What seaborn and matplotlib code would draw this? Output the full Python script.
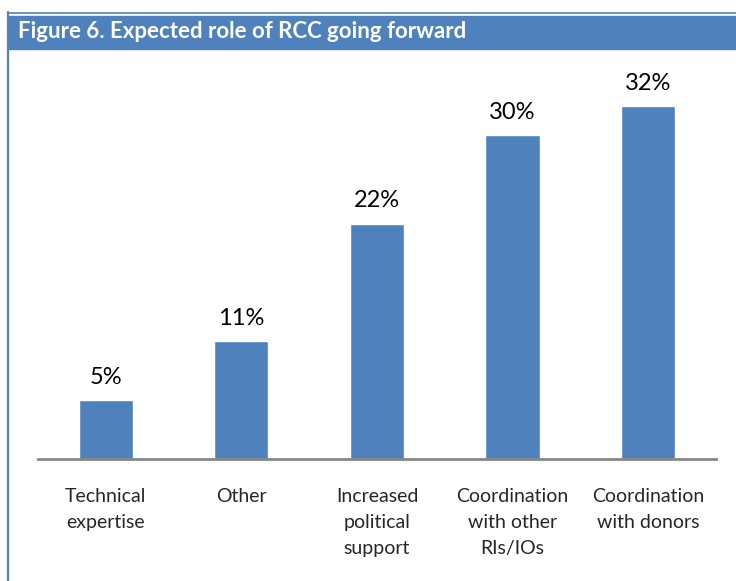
import matplotlib
matplotlib.use("Agg")
import matplotlib.pyplot as plt
import seaborn as sns
import pandas as pd
from matplotlib.patches import Rectangle
from matplotlib.lines import Line2D

sns.set_theme(style="white")
plt.rcParams['font.family'] = ['Lato', 'DejaVu Sans']

roles = ["Technical\nexpertise", "Other", "Increased\npolitical\nsupport",
         "Coordination\nwith other\nRIs/IOs", "Coordination\nwith donors"]
shares = [5.4, 10.8, 21.6, 29.7, 32.4]
labels = ["5%", "11%", "22%", "30%", "32%"]

blue = "#4F81BD"

df = pd.DataFrame({"role": roles, "share": shares})

fig = plt.figure(figsize=(7.36, 5.81), dpi=100)
ax = fig.add_axes([0.0516, 0.21, 0.9212, 0.675])
sns.barplot(data=df, x="role", y="share", color=blue, saturation=1,
            width=0.4, ax=ax)
ax.set_ylim(0, 36)
ax.set_xlim(-0.5, len(roles) - 0.5)
ax.bar_label(ax.containers[0], labels=labels, padding=9, fontsize=17,
             color="black")

for s in ["top", "right", "left"]:
    ax.spines[s].set_visible(False)
ax.spines["bottom"].set_color("#868686")
ax.spines["bottom"].set_linewidth(2)
ax.set_yticks([])
ax.set_xlabel("")
ax.set_ylabel("")
ax.set_xticklabels([])
ax.tick_params(axis="x", length=0)

# category labels with wider line spacing
for i, r in enumerate(roles):
    ax.annotate(r, xy=(i, 0), xycoords=("data", "axes fraction"),
                xytext=(0, -21), textcoords="offset points",
                ha="center", va="top", fontsize=14, linespacing=1.65)

# figure frame and header bar
fig.patches.append(Rectangle((8 / 736, 1 - 49 / 581), 1 - 8 / 736, 33 / 581,
                             transform=fig.transFigure, color=blue, zorder=0))
fig.lines.append(Line2D([7.5 / 736, 1], [1 - 12.5 / 581, 1 - 12.5 / 581],
                        transform=fig.transFigure, color=blue, lw=1.2))
fig.lines.append(Line2D([8 / 736, 8 / 736], [0, 1 - 12 / 581],
                        transform=fig.transFigure, color=blue, lw=1.6))
fig.text(18 / 736, 1 - 32 / 581, "Figure 6. Expected role of RCC going forward",
         color="white", fontsize=16, fontweight="bold", va="center", ha="left")

fig.savefig("out.png", dpi=100)
